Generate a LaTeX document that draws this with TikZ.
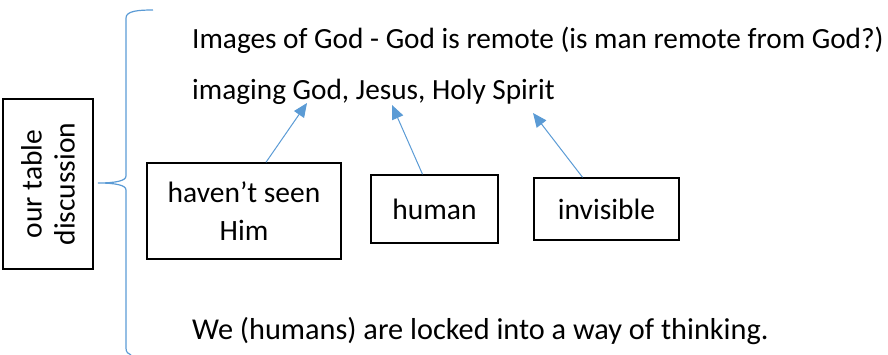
\documentclass[tikz,border=0pt]{standalone}
\usepackage{fontspec}
\setmainfont{Carlito}
\usetikzlibrary{arrows.meta,calc}
\definecolor{accent}{HTML}{5B9BD5}
\begin{document}
\begin{tikzpicture}[x=1pt,y=-1pt,
  txt/.style={font=\fontsize{29.3}{36}\selectfont, inner sep=0pt},
  box/.style={draw=black, line width=1.5pt, align=center, inner sep=0pt, font=\fontsize{29.5}{38}\selectfont},
  arr/.style={draw=accent, line width=1pt, -{Triangle[length=14pt,width=12pt]}},
  brace/.style={draw=accent, line width=1.2pt}
]
\useasboundingbox (0,0) rectangle (888,355);
% left box
\node[box, minimum width=90pt, minimum height=170pt] (disc) at (48,184) {};
\node[rotate=90, align=center, font=\fontsize{29.5}{33}\selectfont, inner sep=0pt] (disctext) at (disc.center) {our table\\discussion};
% brace
\draw[brace] (153,10) .. controls (138,10) and (126,11) .. (126,18) -- (126,176)
  .. controls (126,181) and (115,183) .. (98,183)
  .. controls (115,183) and (126,185) .. (126,190) -- (126,348)
  .. controls (126,352) and (128,354) .. (131,355);
% texts
\node[txt, anchor=base west] (t1) at (192,49) {Images of God - God is remote (is man remote from God?)};
\node[txt, anchor=base west] (t2) at (192,100) {imaging God, Jesus, Holy Spirit};
\node[txt, anchor=base west, font=\fontsize{30.3}{36}\selectfont] (t3) at (192,339) {We (humans) are locked into a way of thinking.};
% boxes
\node[box, minimum width=194pt, minimum height=96pt] (hav) at (244,211) {haven’t seen\\Him};
\node[box, minimum width=127pt, minimum height=68pt] (hum) at (434.5,209) {human};
\node[box, minimum width=145pt, minimum height=62pt] (inv) at (606.5,209) {invisible};
% arrow tips
\coordinate (p1) at (307,103);
\coordinate (p2) at (392,105);
\coordinate (p3) at (533,113);
\draw[arr] ([xshift=22pt]hav.north) -- (p1);
\draw[arr] ([xshift=-12pt]hum.north) -- (p2);
\draw[arr] ([xshift=-24pt]inv.north) -- (p3);
\end{tikzpicture}
\end{document}
